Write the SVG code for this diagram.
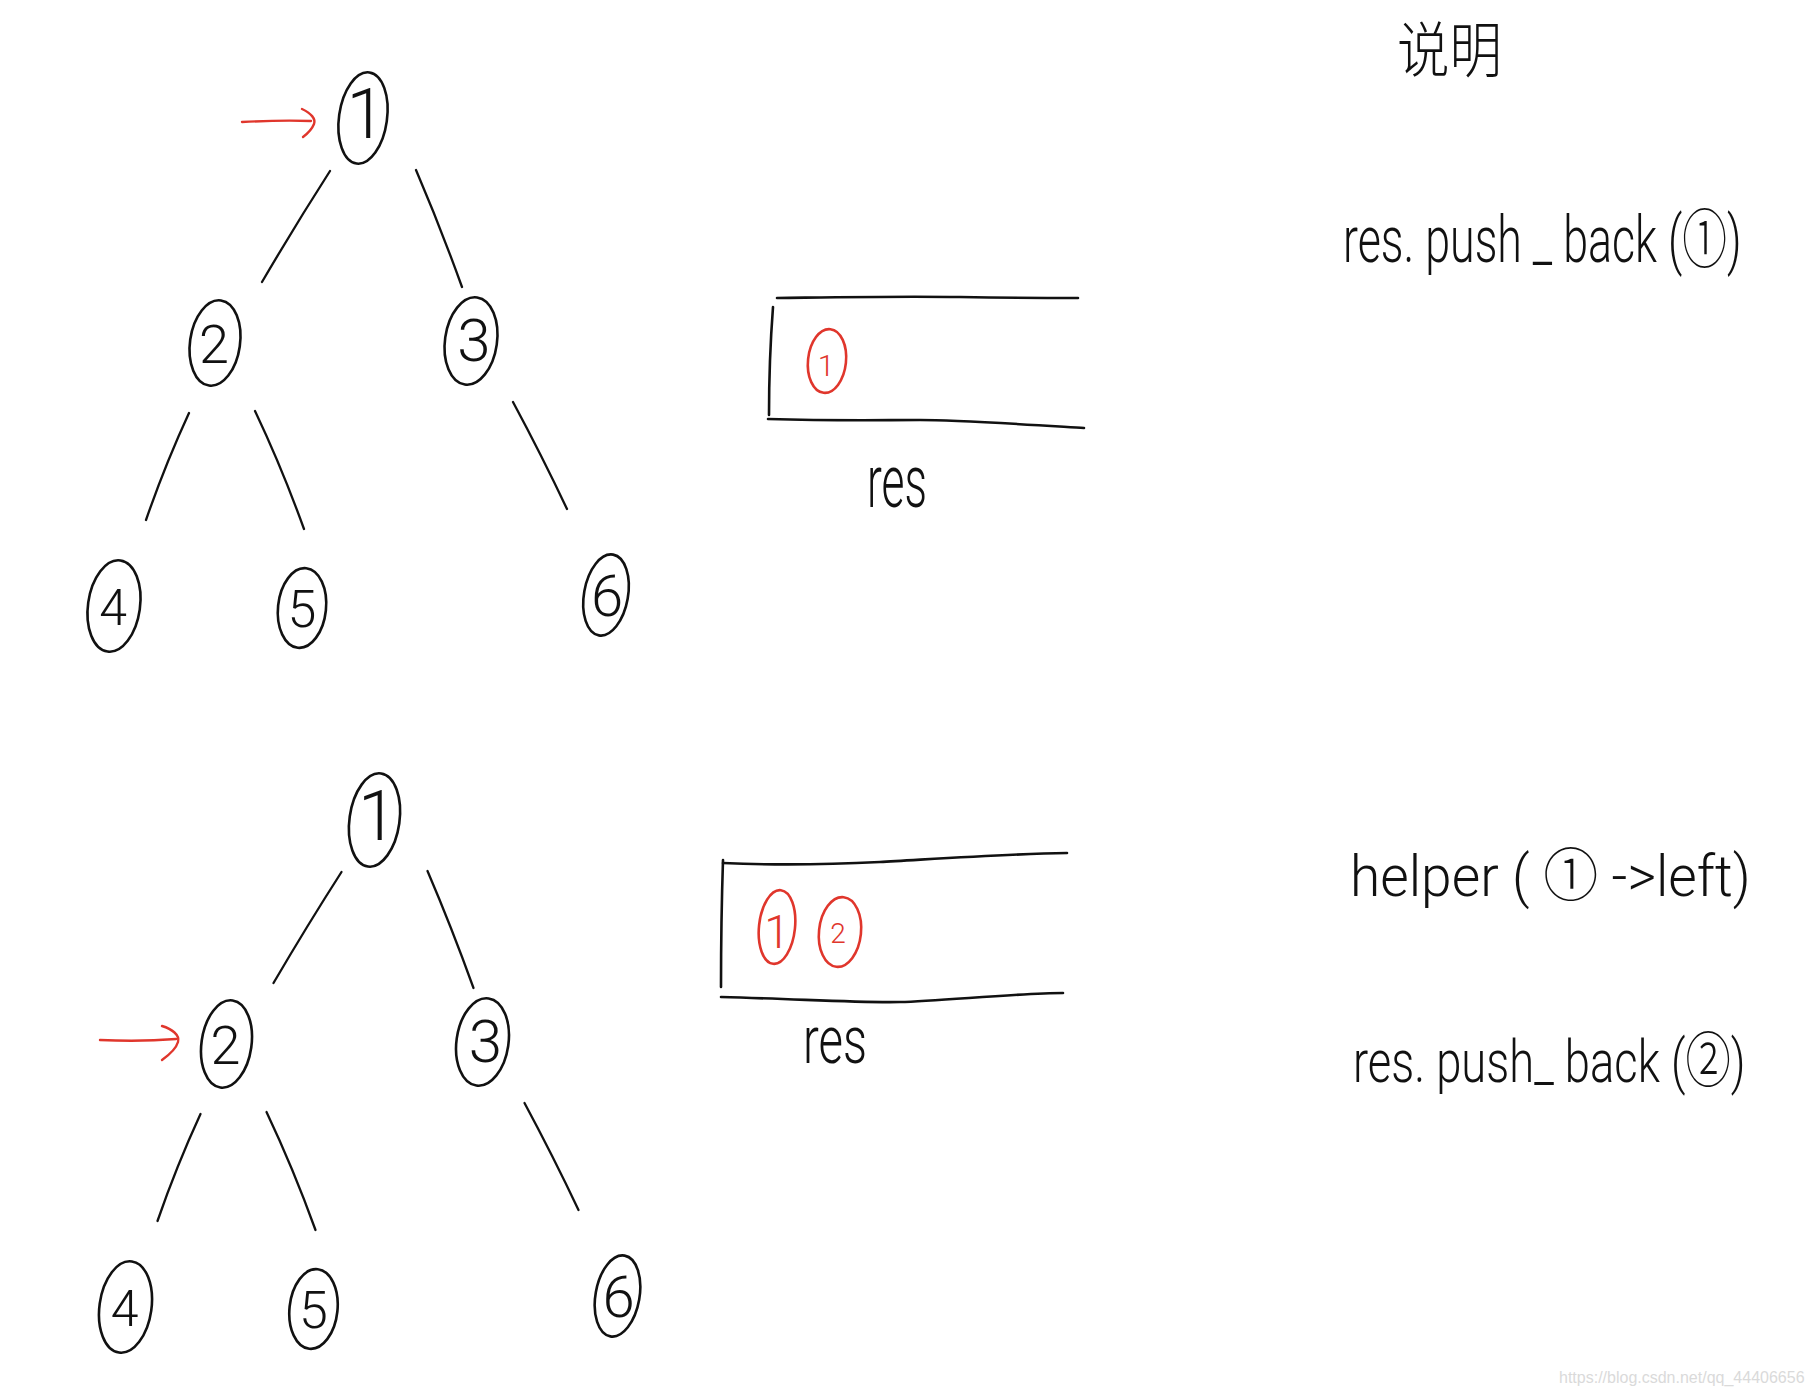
<svg xmlns="http://www.w3.org/2000/svg" width="1812" height="1396" viewBox="0 0 1812 1396">
<style>
.ov{fill:none;stroke:#111;stroke-width:2.6}
.edge{fill:none;stroke:#111;stroke-width:2.3;stroke-linecap:round}
.redl{fill:none;stroke:#e0362c;stroke-width:2.4;stroke-linecap:round}
.redo{fill:none;stroke:#e0362c;stroke-width:2.6}
.box{fill:none;stroke:#111;stroke-width:2.6;stroke-linecap:round}
.lbl{font-family:Roboto,'Liberation Sans',sans-serif;font-weight:300;fill:#111;text-anchor:middle}
.rlbl{font-family:Roboto,'Liberation Sans',sans-serif;font-weight:300;fill:#e0362c;text-anchor:middle}
.hand{font-family:Roboto,'Liberation Sans','DejaVu Sans','Noto Sans CJK SC',sans-serif;font-weight:300;fill:#111}
.cjk{font-family:'Noto Sans CJK SC',sans-serif;font-weight:300;fill:#111}
.wm{font-family:'Liberation Sans',Arial,sans-serif;font-size:16px;fill:#dadada}
</style>
<rect width="1812" height="1396" fill="#fff"/>

<g id="connectors">
  <!-- top tree -->
  <path class="edge" d="M330,171 Q296,224 262,282"/>
  <path class="edge" d="M416,170 Q440,226 462,287"/>
  <path class="edge" d="M189,413 Q165,465 146,520"/>
  <path class="edge" d="M255,411 Q282,468 304,529"/>
  <path class="edge" d="M513,402 Q542,456 567,509"/>
  <!-- bottom tree -->
  <path class="edge" d="M341.5,872 Q307.5,925 273.5,983"/>
  <path class="edge" d="M427.5,871 Q451.5,927 473.5,988"/>
  <path class="edge" d="M200.5,1114 Q176.5,1166 157.5,1221"/>
  <path class="edge" d="M266.5,1112 Q293.5,1169 315.5,1230"/>
  <path class="edge" d="M524.5,1103 Q553.5,1157 578.5,1210"/>
  <!-- red pointers -->
  <path class="redl" d="M242,122 Q280,120 311,121"/>
  <path class="redl" d="M302,109 C311,113 316,119 314,124 C312,129 307,134 303,137"/>
  <path class="redl" d="M100,1040 Q140,1042 176,1039"/>
  <path class="redl" d="M162,1026 C172,1029 180,1035 178,1042 C176,1049 169,1055 162,1060"/>
</g>

<!-- top tree nodes -->
<g id="t1-n1"><ellipse class="ov" cx="363" cy="118" rx="24" ry="46" transform="rotate(8 363 118)"/><text class="lbl" x="366" y="138" font-size="70">1</text></g>
<g id="t1-n2"><ellipse class="ov" cx="215" cy="343" rx="25" ry="43" transform="rotate(8 215 343)"/><text class="lbl" x="214" y="363" font-size="54">2</text></g>
<g id="t1-n3"><ellipse class="ov" cx="471" cy="341" rx="26" ry="44" transform="rotate(8 471 341)"/><text class="lbl" x="474" y="361" font-size="60">3</text></g>
<g id="t1-n4"><ellipse class="ov" cx="114" cy="606" rx="26" ry="46" transform="rotate(8 114 606)"/><text class="lbl" x="113" y="625" font-size="50">4</text></g>
<g id="t1-n5"><ellipse class="ov" cx="302" cy="608" rx="24" ry="40" transform="rotate(6 302 608)"/><text class="lbl" x="302" y="627" font-size="52">5</text></g>
<g id="t1-n6"><ellipse class="ov" cx="606" cy="595" rx="22" ry="41" transform="rotate(10 606 595)"/><text class="lbl" x="607" y="616" font-size="58">6</text></g>

<!-- bottom tree nodes -->
<g id="t2-n1"><ellipse class="ov" cx="374.5" cy="820" rx="25" ry="47" transform="rotate(8 374.5 820)"/><text class="lbl" x="377.5" y="840" font-size="70">1</text></g>
<g id="t2-n2"><ellipse class="ov" cx="226.5" cy="1044" rx="25" ry="44" transform="rotate(8 226.5 1044)"/><text class="lbl" x="225.5" y="1064" font-size="54">2</text></g>
<g id="t2-n3"><ellipse class="ov" cx="482.5" cy="1042" rx="26" ry="44" transform="rotate(8 482.5 1042)"/><text class="lbl" x="485.5" y="1062" font-size="60">3</text></g>
<g id="t2-n4"><ellipse class="ov" cx="125.5" cy="1307" rx="26" ry="46" transform="rotate(8 125.5 1307)"/><text class="lbl" x="124.5" y="1326" font-size="50">4</text></g>
<g id="t2-n5"><ellipse class="ov" cx="313.5" cy="1309" rx="24" ry="40" transform="rotate(6 313.5 1309)"/><text class="lbl" x="313.5" y="1328" font-size="52">5</text></g>
<g id="t2-n6"><ellipse class="ov" cx="617.5" cy="1296" rx="22" ry="41" transform="rotate(10 617.5 1296)"/><text class="lbl" x="618.5" y="1317" font-size="58">6</text></g>

<!-- res array 1 -->
<g id="res1">
  <path class="box" d="M777,298 C850,297 900,296 960,297 S1050,298 1078,298"/>
  <path class="box" d="M773,307 Q769,360 769,415"/>
  <path class="box" d="M768,419 C840,421 880,420 920,420 S1050,426 1084,428"/>
  <ellipse class="redo" cx="827" cy="361" rx="19" ry="32" transform="rotate(6 827 361)"/>
  <text class="rlbl" x="826" y="376" font-size="30">1</text>
  <text class="hand" x="867" y="507" font-size="74" textLength="60" lengthAdjust="spacingAndGlyphs">res</text>
</g>

<!-- res array 2 -->
<g id="res2">
  <path class="box" d="M723,863 C790,866 840,864 880,862 S1000,854 1067,853"/>
  <path class="box" d="M723,860 Q721,920 721,987"/>
  <path class="box" d="M721,997 C800,999 860,1003 900,1002 S1020,993 1063,993"/>
  <ellipse class="redo" cx="777" cy="927" rx="18" ry="37" transform="rotate(6 777 927)"/>
  <text class="rlbl" x="777" y="948" font-size="46">1</text>
  <ellipse class="redo" cx="840" cy="932" rx="21" ry="35" transform="rotate(6 840 932)"/>
  <text class="rlbl" x="838" y="943" font-size="28">2</text>
  <text class="hand" x="803" y="1063" font-size="66" textLength="64" lengthAdjust="spacingAndGlyphs">res</text>
</g>

<!-- notes -->
<g id="title"><text class="cjk" x="1397" y="72" font-size="60" textLength="105" lengthAdjust="spacingAndGlyphs">说明</text></g>
<g id="note1"><text class="hand" transform="translate(1343 262) scale(0.7 1)" x="0" y="0" font-size="64">res. push _ back (①)</text></g>
<g id="note2"><text class="hand" transform="translate(1350 896) scale(0.95 1)" x="0" y="0" font-size="58">helper ( ① ->left)</text></g>
<g id="note3"><text class="hand" transform="translate(1353 1082) scale(0.756 1)" x="0" y="0" font-size="60">res. push_ back (②)</text></g>

<text class="wm" x="1559" y="1383">https://blog.csdn.net/qq_44406656</text>
</svg>
